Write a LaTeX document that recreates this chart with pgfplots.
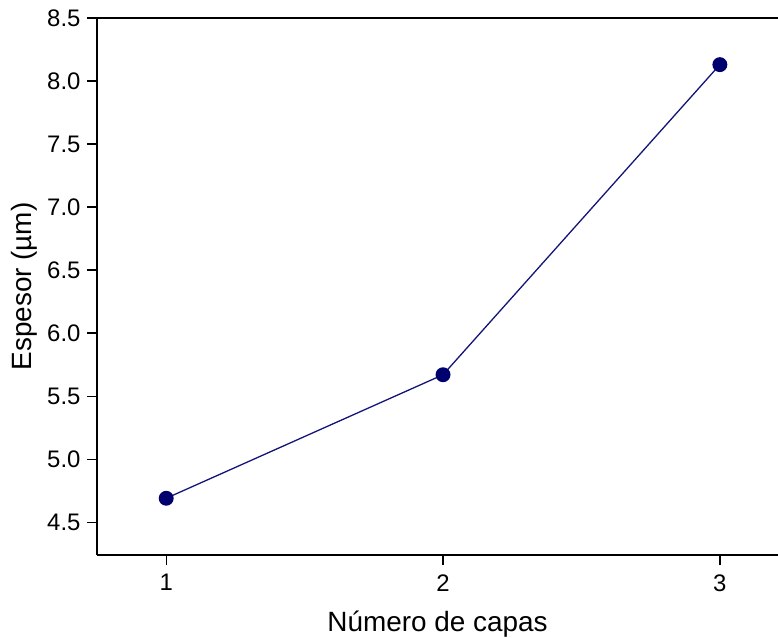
\documentclass[border=0pt]{standalone}
\usepackage{pgfplots}
\pgfplotsset{compat=1.18}
\usepackage{fontspec}
\setmainfont{Liberation Sans}
\definecolor{navyline}{RGB}{20,20,120}
\definecolor{navymark}{RGB}{0,0,110}
\begin{document}
\begin{tikzpicture}
\begin{axis}[
  scale only axis,
  width=681bp, height=537bp,
  xmin=0.75, xmax=3.21,
  ymin=4.24, ymax=8.5,
  axis x line=box,
  axis y line=left,
  axis line style={line width=1.6bp, -},
  xtick={1,2,3},
  ytick={4.5,5.0,5.5,6.0,6.5,7.0,7.5,8.0,8.5},
  xtick pos=bottom, ytick pos=left,
  tick align=outside,
  major tick length=10bp,
  tick style={line width=1.3bp, black},
  /pgf/number format/assume math mode=true,
  tick label style={font=\fontsize{24}{28}\selectfont},
  yticklabel style={xshift=-3bp, /pgf/number format/.cd, fixed, fixed zerofill, precision=1},
  xticklabel style={yshift=-6bp},
  xlabel={Número de capas},
  ylabel={Espesor (µm)},
  label style={font=\fontsize{28}{33}\selectfont},
  xlabel style={yshift=-13bp},
  ylabel style={yshift=3bp},
  clip=false,
]
\addplot[color=navyline, line width=1.3bp, mark=*, mark size=6.8bp,
  mark options={fill=navymark, draw=navymark}]
  coordinates {(1,4.69) (2,5.67) (3,8.13)};
\end{axis}
\pgfresetboundingbox
\path (current axis.south west) ++(-97bp,-83bp) coordinate (bl);
\path (current axis.north east) ++(0bp,18bp) coordinate (tr);
\useasboundingbox (bl) rectangle (tr);
\end{tikzpicture}
\end{document}
